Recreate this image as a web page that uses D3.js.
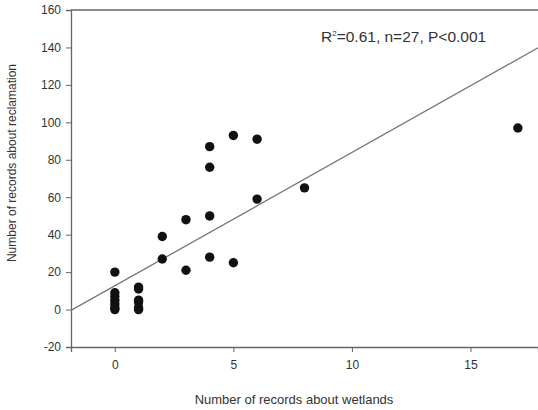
<!DOCTYPE html>
<html>
<head>
<meta charset="utf-8">
<script src="https://cdn.jsdelivr.net/npm/d3@7"></script>
<style>
  body { margin: 0; background: #fff; }
  text { font-family: "Liberation Sans", Arial, sans-serif; fill: #333; }
</style>
</head>
<body>
<div id="chart"></div>
<script>
// data
var wetlands =     [0, 0, 0, 0, 0, 0, 0, 1, 1, 1, 1, 1, 1, 2, 2, 3, 3, 4, 4, 4, 4, 5, 5, 6, 6, 8, 17];
var reclamation =  [20, 9, 7, 5, 3, 1, 0, 12, 11, 5, 4, 1, 0, 39, 27, 48, 21, 87, 76, 50, 28, 93, 25, 91, 59, 65, 97];
var xTicks = [0, 5, 10, 15];
var yTicks = [-20, 0, 20, 40, 60, 80, 100, 120, 140, 160];
var fitIntercept = 12.7;
var fitSlope = 7.12;
var statsLabel = "=0.61, n=27, P<0.001";

var svgWidth = 538;
var svgHeight = 410;

var margin = { top: 10, right: 0, bottom: 63, left: 71 };
var width = svgWidth - margin.left - margin.right;
var height = svgHeight - margin.top - margin.bottom;

var svg = d3.select("#chart")
    .append("svg")
    .attr("width", svgWidth)
    .attr("height", svgHeight);

var chartGroup = svg.append("g")
    .attr("transform", `translate(${margin.left}, ${margin.top})`);

var xScale = d3.scaleLinear()
    .domain([-1.85, 17.85])
    .range([0, width]);

var yScale = d3.scaleLinear()
    .domain([-20, 160])
    .range([height, 0]);

// axes (plain hyphen for negatives, like the original)
var bottomAxis = d3.axisBottom(xScale).tickValues(xTicks).tickFormat(d => String(d)).tickSize(5).tickPadding(8);
var leftAxis = d3.axisLeft(yScale).tickValues(yTicks).tickFormat(d => String(d)).tickSize(5).tickPadding(5);

var xAxis = chartGroup.append("g")
    .attr("transform", `translate(0, ${height})`)
    .call(bottomAxis);

var yAxis = chartGroup.append("g")
    .call(leftAxis);

[xAxis, yAxis].forEach(function (ax) {
    ax.select(".domain").attr("stroke", "#666").attr("stroke-width", 1.3);
    ax.selectAll(".tick line").attr("stroke", "#666");
    ax.selectAll(".tick text")
        .attr("fill", "#444")
        .style("font-size", "12px")
        .style("font-family", "Liberation Sans, Arial, sans-serif");
});

// top frame line
chartGroup.append("line")
    .attr("x1", 0)
    .attr("x2", width)
    .attr("y1", 0)
    .attr("y2", 0)
    .attr("stroke", "#666")
    .attr("stroke-width", 1.3);

// regression line
var xd = xScale.domain();
chartGroup.append("line")
    .attr("x1", xScale(xd[0]))
    .attr("y1", yScale(fitIntercept + fitSlope * xd[0]))
    .attr("x2", xScale(xd[1]))
    .attr("y2", yScale(fitIntercept + fitSlope * xd[1]))
    .attr("stroke", "#777")
    .attr("stroke-width", 1.3);

// points
chartGroup.selectAll("circle")
    .data(wetlands)
    .enter()
    .append("circle")
    .attr("cx", d => xScale(d))
    .attr("cy", (d, i) => yScale(reclamation[i]))
    .attr("r", 4.7)
    .attr("fill", "#111");

// annotation
var stats = svg.append("text")
    .attr("x", 321)
    .attr("y", 42)
    .style("font-size", "15.5px");
stats.append("tspan").text("R");
stats.append("tspan").attr("dy", -6).style("font-size", "8px").text("2");
stats.append("tspan").attr("dy", 6).text(statsLabel);

// axis titles
svg.append("text")
    .attr("x", 294)
    .attr("y", 404)
    .attr("text-anchor", "middle")
    .style("font-size", "13px")
    .text("Number of records about wetlands");

svg.append("text")
    .attr("transform", "translate(16, 163) rotate(-90)")
    .attr("text-anchor", "middle")
    .style("font-size", "12px")
    .text("Number of records about reclamation");
</script>
</body>
</html>
